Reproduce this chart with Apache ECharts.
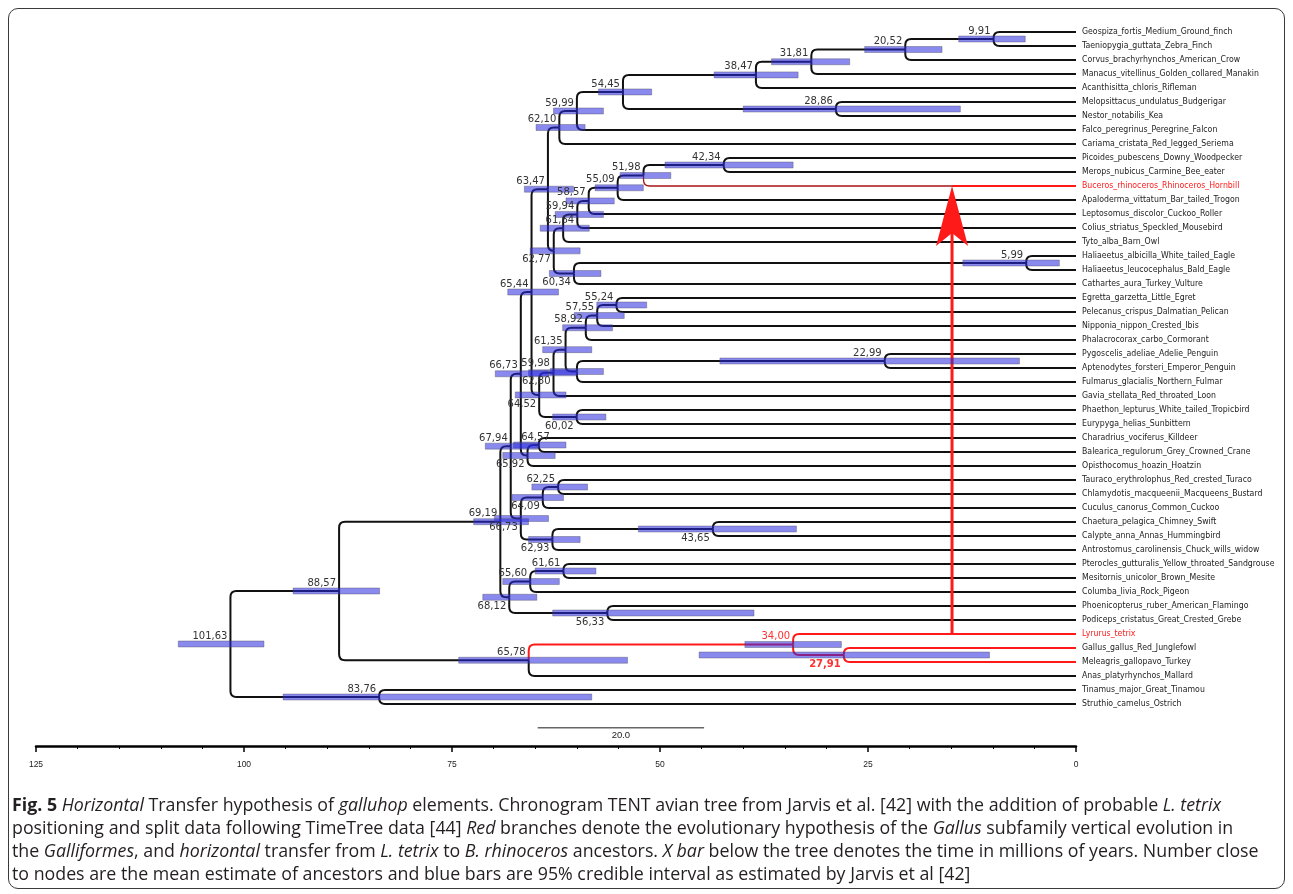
<!DOCTYPE html>
<html>
<head>
<meta charset="utf-8">
<script src="https://cdn.jsdelivr.net/npm/echarts@6/dist/echarts.min.js"></script>
<style>
  html, body { margin: 0; padding: 0; background: #fff; }
  #wrap { position: relative; width: 1293px; height: 894px; overflow: hidden; }
  #frame { position: absolute; left: 8px; top: 8px; width: 1277px; height: 881px;
           border: 1.5px solid #3a3a3a; border-radius: 10px; box-sizing: border-box; }
  #chart { position: absolute; left: 0; top: 0; width: 1293px; height: 894px; }
  #caption { position: absolute; left: 12px; top: 793px; font-family: "Open Sans"; font-size: 17.8px;
             line-height: 23px; color: #231f20; white-space: nowrap; }
  #caption b { font-weight: 700; }
</style>
</head>
<body>
<div id="wrap">
  <div id="frame"></div>
  <div id="chart"></div>
  <div id="caption">
    <div><b>Fig. 5</b> <i>Horizontal</i> Transfer hypothesis of <i>galluhop</i> elements. Chronogram TENT avian tree from Jarvis et al. [42] with the addition of probable <i>L. tetrix</i></div>
    <div>positioning and split data following TimeTree data [44] <i>Red</i> branches denote the evolutionary hypothesis of the <i>Gallus</i> subfamily vertical evolution in</div>
    <div>the <i>Galliformes</i>, and <i>horizontal</i> transfer from <i>L. tetrix</i> to <i>B. rhinoceros</i> ancestors. <i>X bar</i> below the tree denotes the time in millions of years. Number close</div>
    <div>to nodes are the mean estimate of ancestors and blue bars are 95% credible interval as estimated by Jarvis et al [42]</div>
  </div>
</div>
<script>
// tips, top to bottom
const tipNames = [
  'Geospiza_fortis_Medium_Ground_finch', 'Taeniopygia_guttata_Zebra_Finch',
  'Corvus_brachyrhynchos_American_Crow', 'Manacus_vitellinus_Golden_collared_Manakin',
  'Acanthisitta_chloris_Rifleman', 'Melopsittacus_undulatus_Budgerigar', 'Nestor_notabilis_Kea',
  'Falco_peregrinus_Peregrine_Falcon', 'Cariama_cristata_Red_legged_Seriema',
  'Picoides_pubescens_Downy_Woodpecker', 'Merops_nubicus_Carmine_Bee_eater',
  'Buceros_rhinoceros_Rhinoceros_Hornbill', 'Apaloderma_vittatum_Bar_tailed_Trogon',
  'Leptosomus_discolor_Cuckoo_Roller', 'Colius_striatus_Speckled_Mousebird', 'Tyto_alba_Barn_Owl',
  'Haliaeetus_albicilla_White_tailed_Eagle', 'Haliaeetus_leucocephalus_Bald_Eagle',
  'Cathartes_aura_Turkey_Vulture', 'Egretta_garzetta_Little_Egret', 'Pelecanus_crispus_Dalmatian_Pelican',
  'Nipponia_nippon_Crested_Ibis', 'Phalacrocorax_carbo_Cormorant', 'Pygoscelis_adeliae_Adelie_Penguin',
  'Aptenodytes_forsteri_Emperor_Penguin', 'Fulmarus_glacialis_Northern_Fulmar',
  'Gavia_stellata_Red_throated_Loon', 'Phaethon_lepturus_White_tailed_Tropicbird',
  'Eurypyga_helias_Sunbittern', 'Charadrius_vociferus_Killdeer', 'Balearica_regulorum_Grey_Crowned_Crane',
  'Opisthocomus_hoazin_Hoatzin', 'Tauraco_erythrolophus_Red_crested_Turaco',
  'Chlamydotis_macqueenii_Macqueens_Bustard', 'Cuculus_canorus_Common_Cuckoo',
  'Chaetura_pelagica_Chimney_Swift', 'Calypte_anna_Annas_Hummingbird',
  'Antrostomus_carolinensis_Chuck_wills_widow', 'Pterocles_gutturalis_Yellow_throated_Sandgrouse',
  'Mesitornis_unicolor_Brown_Mesite', 'Columba_livia_Rock_Pigeon', 'Phoenicopterus_ruber_American_Flamingo',
  'Podiceps_cristatus_Great_Crested_Grebe', 'Lyrurus_tetrix', 'Gallus_gallus_Red_Junglefowl',
  'Meleagris_gallopavo_Turkey', 'Anas_platyrhynchos_Mallard', 'Tinamus_major_Great_Tinamou',
  'Struthio_camelus_Ostrich'
];
const redTips = [11, 43, 44, 45];

// clades: id, mean age (Ma), 95% low, 95% high, children (tip index or clade id)
const clades = [
  ['9.91', 9.91, 6.1, 14.1, [0, 1]],
  ['20.52', 20.52, 16.1, 25.4, ['9.91', 2]],
  ['31.81', 31.81, 27.2, 36.6, ['20.52', 3]],
  ['38.47', 38.47, 33.4, 43.5, ['31.81', 4]],
  ['28.86', 28.86, 13.9, 40.0, [5, 6]],
  ['54.45', 54.45, 51.0, 57.4, ['38.47', '28.86']],
  ['59.99', 59.99, 56.8, 62.8, ['54.45', 7]],
  ['62.10', 62.10, 59.0, 64.9, ['59.99', 8]],
  ['42.34', 42.34, 34.0, 49.4, [9, 10]],
  ['51.98', 51.98, 48.7, 54.8, ['42.34', 11]],
  ['55.09', 55.09, 52.0, 57.8, ['51.98', 12]],
  ['58.57', 58.57, 55.5, 61.3, ['55.09', 13]],
  ['59.94', 59.94, 56.8, 62.6, ['58.57', 14]],
  ['61.64', 61.64, 58.5, 64.4, ['59.94', 15]],
  ['5.99', 5.99, 2.0, 13.6, [16, 17]],
  ['60.34', 60.34, 57.1, 63.3, ['5.99', 18]],
  ['62.77', 62.77, 59.6, 65.6, ['61.64', '60.34']],
  ['63.47', 63.47, 60.4, 66.3, ['62.10', '62.77']],
  ['55.24', 55.24, 51.6, 57.6, [19, 20]],
  ['57.55', 57.55, 54.3, 60.3, ['55.24', 21]],
  ['58.92', 58.92, 55.7, 61.7, ['57.55', 22]],
  ['22.99', 22.99, 6.8, 42.8, [23, 24]],
  ['59.98', 59.98, 56.8, 63.2, ['22.99', 25]],
  ['61.35', 61.35, 58.2, 64.1, ['58.92', '59.98']],
  ['62.80', 62.80, 59.9, 65.8, ['61.35', 26]],
  ['60.02', 60.02, 56.5, 62.9, [27, 28]],
  ['64.52', 64.52, 61.3, 67.4, ['62.80', '60.02']],
  ['65.44', 65.44, 62.2, 68.3, ['63.47', '64.52']],
  ['64.57', 64.57, 61.3, 67.6, [29, 30]],
  ['65.92', 65.92, 62.6, 68.9, ['64.57', 31]],
  ['66.73a', 66.73, 63.4, 69.8, ['65.44', '65.92']],
  ['62.25', 62.25, 58.7, 65.4, [32, 33]],
  ['64.09', 64.09, 61.6, 67.8, ['62.25', 34]],
  ['43.65', 43.65, 33.6, 52.6, [35, 36]],
  ['62.93', 62.93, 59.6, 65.8, ['43.65', 37]],
  ['66.73b', 66.73, 63.4, 69.9, ['64.09', '62.93']],
  ['67.94', 67.94, 64.7, 71.0, ['66.73a', '66.73b']],
  ['61.61', 61.61, 57.7, 65.0, [38, 39]],
  ['65.60', 65.60, 62.1, 68.9, ['61.61', 40]],
  ['56.33', 56.33, 38.7, 62.9, [41, 42]],
  ['68.12', 68.12, 64.8, 71.3, ['65.60', '56.33']],
  ['69.19', 69.19, 65.8, 72.4, ['67.94', '68.12']],
  ['27.91', 27.91, 10.4, 45.3, [44, 45]],
  ['34.00', 34.00, 28.2, 39.8, [43, '27.91']],
  ['65.78', 65.78, 53.9, 74.2, ['34.00', 46]],
  ['88.57', 88.57, 83.7, 94.1, ['69.19', '65.78']],
  ['83.76', 83.76, 58.2, 95.3, [47, 48]],
  ['101.63', 101.63, 97.6, 107.9, ['88.57', '83.76']]
];
const redClades = ['34.00', '27.91'];

// node label placement (FigTree put some under the branch)
const labelBelow = ['62.77', '60.34', '62.80', '64.52', '60.02', '65.92', '64.09', '66.73b',
  '62.93', '43.65', '68.12', '56.33', '27.91'];
const labelNudge = { '64.57': 14, '61.64': 14, '59.98': -24 };

// hand drawn transfer arrow (L. tetrix -> B. rhinoceros) and the 20 Ma scale bar
const transferAge = 14.9;
const transferFrom = 43, transferTo = 11;
const scaleBarStart = 64.7, scaleBarLength = 20, scaleBarRow = 49.7;

// ---- layout: tip rows, clade rows = middle of first/last child
const rowOf = {}, ageOf = {};
tipNames.forEach((n, i) => { rowOf[i] = i; ageOf[i] = 0; });
clades.forEach(([id, age, lo, hi, kids]) => {
  rowOf[id] = (rowOf[kids[0]] + rowOf[kids[kids.length - 1]]) / 2;
  ageOf[id] = age;
});

const branchData = [];
clades.forEach(([id, age, lo, hi, kids]) => {
  kids.forEach(k => {
    let kind = 0;
    if (typeof k === 'number' ? redTips.includes(k) : redClades.includes(k)) kind = 1;
    if (k === transferTo) kind = 2;
    branchData.push([age, rowOf[id], ageOf[k], rowOf[k], kind]);
  });
});
const hpdData = clades.map(c => [c[3], rowOf[c[0]], c[2]]);
const nodeLabelData = clades.map(c => [c[1], rowOf[c[0]]]);
const tipData = tipNames.map((n, i) => [0, i]);

const branchColors = ['#111', '#ff1a1a', '#a81515'];

const chart = echarts.init(document.getElementById('chart'));

chart.setOption({
  animation: false,
  grid: { left: 36, right: 217, top: 18, bottom: 148 },
  xAxis: {
    type: 'value', min: 0, max: 125, interval: 25, inverse: true,
    axisLine: { show: true, onZero: false, lineStyle: { color: '#000', width: 2.5 } },
    axisTick: { show: true, length: 6, lineStyle: { color: '#000', width: 1.5 } },
    minorTick: { show: true, splitNumber: 5, length: 3, lineStyle: { color: '#000', width: 1 } },
    axisLabel: { margin: 14, fontSize: 8.5, fontFamily: 'Liberation Sans', color: '#222' },
    splitLine: { show: false }
  },
  yAxis: { type: 'value', min: -1, max: 51, inverse: true, show: false },
  series: [
    {
      type: 'custom', clip: false, z: 2,
      data: branchData,
      renderItem(params, api) {
        const p = api.coord([api.value(0), api.value(1)]);
        const c = api.coord([api.value(2), api.value(3)]);
        const kind = api.value(4);
        const dy = c[1] - p[1];
        const s = dy >= 0 ? 1 : -1;
        const r = Math.min(6, Math.abs(dy), Math.abs(c[0] - p[0]));
        const d = 'M' + p[0] + ',' + p[1] + ' L' + p[0] + ',' + (c[1] - s * r) +
          ' Q' + p[0] + ',' + c[1] + ' ' + (p[0] + r) + ',' + c[1] + ' L' + c[0] + ',' + c[1];
        return {
          type: 'path', shape: { pathData: d },
          style: { fill: 'none', stroke: branchColors[kind], lineWidth: kind === 2 ? 1.3 : 2 }
        };
      }
    },
    {
      // transfer arrow
      type: 'custom', clip: false, z: 3,
      data: [[transferAge, transferFrom, transferTo]],
      renderItem(params, api) {
        const base = api.coord([api.value(0), api.value(1)]);
        const top = api.coord([api.value(0), api.value(2)]);
        const tipEnd = api.coord([0, api.value(2)]);
        return {
          type: 'group',
          children: [
            { type: 'line', shape: { x1: top[0], y1: top[1], x2: tipEnd[0], y2: tipEnd[1] },
              style: { stroke: '#ff1a1a', lineWidth: 2 } },
            { type: 'line', shape: { x1: base[0], y1: base[1], x2: top[0], y2: top[1] + 40 },
              style: { stroke: '#ff1a1a', lineWidth: 3 } },
            { type: 'polygon',
              shape: { points: [[top[0], top[1]], [top[0] + 16, top[1] + 60], [top[0], top[1] + 47], [top[0] - 16, top[1] + 60]] },
              style: { fill: '#ff1a1a' } }
          ]
        };
      }
    },
    {
      // 95% HPD bars
      type: 'custom', clip: false, z: 4,
      data: hpdData,
      renderItem(params, api) {
        const a = api.coord([api.value(0), api.value(1)]);
        const b = api.coord([api.value(2), api.value(1)]);
        return {
          type: 'rect', shape: { x: a[0], y: a[1] - 3, width: b[0] - a[0], height: 6 },
          style: { fill: 'rgba(42,42,224,0.55)', stroke: 'rgba(70,70,90,0.55)', lineWidth: 0.7 }
        };
      }
    },
    {
      // node ages
      type: 'custom', clip: false, z: 5,
      data: nodeLabelData,
      renderItem(params, api) {
        const id = clades[params.dataIndex][0];
        const p = api.coord([api.value(0), api.value(1)]);
        const below = labelBelow.includes(id);
        const red = redClades.includes(id);
        return {
          type: 'text',
          x: p[0] - 3 + (labelNudge[id] || 0), y: below ? p[1] + 4 : p[1] - 3,
          style: {
            text: api.value(0).toFixed(2).replace('.', ','),
            align: 'right', verticalAlign: below ? 'top' : 'bottom',
            fontFamily: 'DejaVu Sans', fontSize: 10,
            fontWeight: id === '27.91' ? 'bold' : 'normal',
            fill: red ? '#ff3030' : '#333'
          }
        };
      }
    },
    {
      // tip names (squeezed like the source figure)
      type: 'custom', clip: false, z: 5,
      data: tipData,
      renderItem(params, api) {
        const i = params.dataIndex;
        const p = api.coord([api.value(0), api.value(1)]);
        const red = i === 11 || i === 43;
        return {
          type: 'text', x: p[0] + 6, y: p[1], scaleX: 0.84,
          style: {
            text: tipNames[i], align: 'left', verticalAlign: 'middle',
            fontFamily: 'DejaVu Sans', fontSize: 9.3, fill: red ? '#ff1a1a' : '#222'
          }
        };
      }
    },
    {
      // scale bar
      type: 'custom', clip: false, z: 5,
      data: [[scaleBarStart, scaleBarRow, scaleBarStart - scaleBarLength]],
      renderItem(params, api) {
        const a = api.coord([api.value(0), api.value(1)]);
        const b = api.coord([api.value(2), api.value(1)]);
        return {
          type: 'group',
          children: [
            { type: 'line', shape: { x1: a[0], y1: a[1], x2: b[0], y2: b[1] },
              style: { stroke: '#666', lineWidth: 1.5 } },
            { type: 'text', x: (a[0] + b[0]) / 2, y: a[1] + 3,
              style: { text: scaleBarLength.toFixed(1), align: 'center', verticalAlign: 'top',
                       fontFamily: 'Liberation Sans', fontSize: 9.5, fill: '#222' } }
          ]
        };
      }
    }
  ]
});
</script>
</body>
</html>
